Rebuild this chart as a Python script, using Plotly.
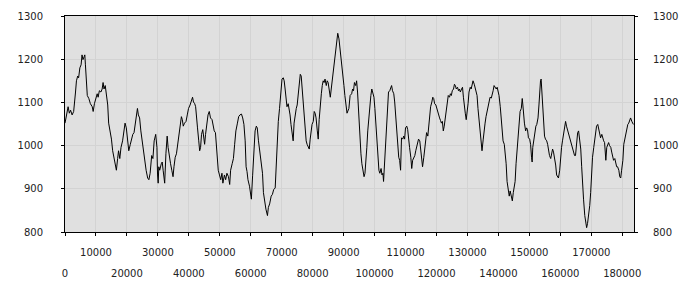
import plotly.graph_objects as go

x_vals = [0,550,1000,1400,1800,2300,2800,3400,3700,4100,4400,4800,5200,5500,5800,6200,6400,6600,6900,7200,7700,8200,8800,9100,9500,9900,10400,10700,11100,11600,12000,12300,12600,13000,13400,13800,14100,14600,15000,15400,15900,16300,16600,17000,17300,17700,18100,18600,19000,19400,19800,20200,20600,21100,21500,21900,22300,22800,23100,23400,23700,24100,24500,24900,25400,25800,26200,26700,27100,27500,28000,28400,28800,29300,29700,29900,30100,
30300,30600,31100,31400,31700,32200,32600,33000,33300,33700,34100,34500,34900,35200,35600,36000,36400,36700,37100,37600,37900,38200,38600,39100,39500,39900,40400,40800,41200,41500,41900,42200,42500,42800,43200,43500,43800,44100,44500,44800,45100,45400,45800,46200,46600,47000,47500,47900,48200,48600,48900,49200,49500,49900,50300,50700,51000,51500,51900,52300,52800,53200,53500,54000,54400,54800,55200,55700,56100,56500,57000,57400,57800,58200,58500,58800,59100,59600,
59900,60200,60600,61000,61400,61800,62100,62500,62900,63300,63800,64100,64500,64900,65400,65700,66100,66600,67000,67400,67900,68200,68500,68900,69300,69700,70100,70500,70800,71100,71400,71700,72100,72400,72700,73000,73400,73700,74000,74300,74700,75000,75300,75600,76000,76300,76600,76900,77200,77600,77900,78200,78500,78900,79200,79500,79800,80200,80500,80800,81100,81500,81800,82100,82400,82800,83100,83400,83700,84000,84400,84700,85000,85300,85700,86000,86300,86600,87000,87300,87600,87900,88100,88500,88800,89100,89400,89800,90100,90400,90700,91100,
91700,92100,92600,92900,93200,93500,93900,94200,94500,94800,95200,95600,95900,96200,96600,96900,97200,97500,97800,98200,98500,98800,99100,99500,99800,100100,100400,100800,101100,101400,101700,102100,102400,102700,102900,103200,103600,103900,104200,104500,104900,105200,105500,105800,106200,106500,106800,107100,107500,107800,108100,108400,108700,109100,109400,109700,110000,110400,110700,111000,111300,111700,112000,112300,112600,113000,113300,113600,113900,114200,114600,114900,115200,115500,115900,116200,116500,116800,117200,117500,117800,118100,118500,118800,119100,119400,119800,120100,120400,120700,
121000,121300,121600,121900,122200,122500,122900,123200,123500,123800,124200,124500,124800,125100,125500,125800,126100,126400,126800,127100,127400,127700,128100,128400,128700,129000,129300,129600,129900,130200,130500,130900,131200,131500,131800,132200,132500,132800,133100,133400,133800,134100,134400,134700,135100,135400,135700,136000,136400,136700,137000,137300,137700,138000,138300,138600,138900,139300,139600,139900,140200,140600,140900,141200,141500,141900,142200,142500,142800,143200,143500,143800,144100,144500,144800,145100,145400,145700,146100,146400,146700,147000,147400,147700,147900,148100,148400,148800,149100,149400,149700,150100,150400,150700,150900,151100,151500,151800,152100,152400,152800,153100,
153300,153600,153800,154000,154300,154600,154900,155200,155600,155900,156200,156500,156900,157200,157500,157800,158100,158500,158800,159100,159400,159800,160100,160400,160700,161100,161400,161700,162000,162400,162700,163000,163300,163600,164000,164300,164600,164900,165300,165600,165900,166200,166600,166900,167200,167500,167900,168200,168500,168800,169200,169500,169800,170100,170400,170800,171100,171400,171700,172100,172400,172700,173000,173400,173700,174000,174300,174700,175000,175300,175600,175900,176300,176600,176900,177200,177600,177900,178200,178500,178900,179200,179500,179800,180200,180500,180800,181100,181500,181800,182100,182400,182700,183100,183400,183600]

y_vals = [1052,1071,1090,1075,1082,1071,1079,1124,1150,1161,1157,1180,1187,1210,1199,1206,1210,1187,1142,1116,1109,1097,1090,1079,1097,1105,1120,1112,1127,1124,1131,1146,1131,1139,1112,1094,1052,1034,1015,988,966,947,943,970,988,970,996,1011,1030,1052,1041,1011,988,1003,1018,1026,1030,1056,1075,1086,1071,1064,1034,1011,996,966,943,925,921,936,977,970,1011,1026,996,932,913,
951,943,958,962,943,913,981,1022,996,973,958,943,928,951,973,981,1003,1026,1049,1067,1060,1045,1052,1056,1071,1086,1094,1105,1112,1101,1097,1090,1071,1041,1011,988,996,1026,1037,1018,1003,1026,1049,1071,1079,1064,1060,1045,1034,1030,996,966,943,932,921,936,913,932,921,936,928,910,943,958,970,1003,1034,1052,1067,1071,1073,1064,1049,1011,951,940,921,906,
891,876,930,1003,1034,1045,1041,1011,988,966,936,891,868,853,838,857,865,883,887,898,902,958,1026,1056,1086,1124,1154,1157,1150,1131,1101,1090,1097,1086,1071,1049,1018,1011,1052,1071,1086,1094,1120,1150,1165,1161,1131,1094,1064,1034,1011,1003,996,992,1015,1037,1049,1056,1079,1075,1064,1034,1015,1060,1094,1120,1139,1150,1146,1154,1139,1150,1146,1124,1112,1131,1150,1169,1187,1206,1232,1255,1260,1247,1229,1206,1180,1161,1139,1116,1090,1075,
1086,1116,1120,1131,1127,1146,1139,1150,1124,1079,1011,981,958,940,928,936,958,996,1034,1071,1101,1116,1131,1120,1112,1086,1049,996,958,943,936,947,932,936,917,958,1003,1056,1094,1124,1127,1135,1139,1127,1120,1101,1071,1026,981,973,966,943,1018,1015,1022,1015,1041,1045,1037,1011,996,973,947,966,970,977,988,996,1007,1015,1011,988,966,951,973,996,1015,1030,1022,1049,1071,1090,1101,1112,1109,1097,1094,1086,1075,1071,
1064,1058,1052,1056,1034,1045,1064,1086,1101,1116,1112,1120,1116,1127,1131,1142,1139,1131,1135,1127,1131,1124,1131,1135,1112,1086,1075,1060,1075,1097,1124,1135,1131,1142,1150,1142,1135,1127,1116,1086,1049,1034,1011,988,1015,1041,1052,1067,1082,1094,1105,1112,1110,1116,1127,1139,1135,1131,1135,1127,1116,1090,1064,1034,1011,1003,981,958,917,891,883,895,883,872,891,902,917,958,996,1034,1067,1079,1086,1109,1094,1075,1052,1034,1041,1037,1018,1015,1003,973,962,996,1018,1034,1045,1049,1064,1094,
1124,1150,1154,1124,1086,1045,1022,1015,1011,1003,988,977,970,981,992,985,973,955,932,928,925,943,981,996,1011,1030,1049,1056,1045,1034,1026,1022,1011,1003,996,988,977,977,1011,1030,1034,1018,992,951,906,876,838,816,810,820,838,861,891,943,973,996,1011,1026,1045,1049,1037,1026,1018,1026,1015,1011,1007,966,996,1003,1007,1000,996,985,973,966,970,958,951,951,943,928,925,943,966,1003,1015,1026,1041,1049,1052,1060,1064,1056,1052,1049]

x_ticks_upper = [10000, 30000, 50000, 70000, 90000, 110000, 130000, 150000, 170000]
x_ticks_lower = [0, 20000, 40000, 60000, 80000, 100000, 120000, 140000, 160000, 180000]
y_ticks = [800, 900, 1000, 1100, 1200, 1300]

X_RANGE = [0, 183800]
Y_RANGE = [800, 1300]
FONT = dict(family="DejaVu Sans", size=10, color="#222222")

fig = go.Figure()
# invisible copies so the secondary axes (right y labels, lower x labels) get drawn
fig.add_trace(go.Scatter(x=x_vals, y=y_vals, xaxis="x2", yaxis="y", mode="lines",
                         line=dict(color="rgba(0,0,0,0)", width=0), opacity=0,
                         showlegend=False, hoverinfo="skip"))
fig.add_trace(go.Scatter(x=x_vals, y=y_vals, xaxis="x", yaxis="y2", mode="lines",
                         line=dict(color="rgba(0,0,0,0)", width=0), opacity=0,
                         showlegend=False, hoverinfo="skip"))
fig.add_trace(go.Scatter(x=x_vals, y=y_vals, mode="lines",
                         line=dict(color="black", width=1), showlegend=False,
                         hoverinfo="skip"))

all_ticks = sorted(x_ticks_upper + x_ticks_lower)
fig.update_layout(
    width=700, height=300,
    margin=dict(l=65, r=66, t=10, b=68),
    paper_bgcolor="white", plot_bgcolor="#e0e0e0",
    font=FONT,
    xaxis=dict(range=X_RANGE, tickvals=all_ticks,
               ticktext=[f"{t}" if t in x_ticks_upper else "" for t in all_ticks],
               showgrid=True, gridcolor="#d3d3d3", gridwidth=1,
               ticks="outside", ticklen=3, tickcolor="black",
               showline=True, linecolor="black", linewidth=1, mirror=True,
               zeroline=False, ticklabelstandoff=8, tickfont=FONT),
    xaxis2=dict(range=X_RANGE, overlaying="x", side="bottom", anchor="y",
                tickvals=x_ticks_lower, ticktext=[str(t) for t in x_ticks_lower],
                showgrid=False, ticks="", showline=False, zeroline=False,
                ticklabelstandoff=34, tickfont=FONT),
    yaxis=dict(range=Y_RANGE, tickvals=y_ticks,
               showgrid=True, gridcolor="#d3d3d3", gridwidth=1,
               ticks="outside", ticklen=3, tickcolor="black",
               showline=True, linecolor="black", linewidth=1, mirror=True,
               zeroline=False, ticklabelstandoff=16, tickfont=FONT),
    yaxis2=dict(range=Y_RANGE, overlaying="y", side="right", anchor="x",
                tickvals=y_ticks, showgrid=False, ticks="outside", ticklen=3,
                tickcolor="black", showline=False, zeroline=False,
                ticklabelstandoff=13, tickfont=FONT),
)

fig.write_html("out.html")
